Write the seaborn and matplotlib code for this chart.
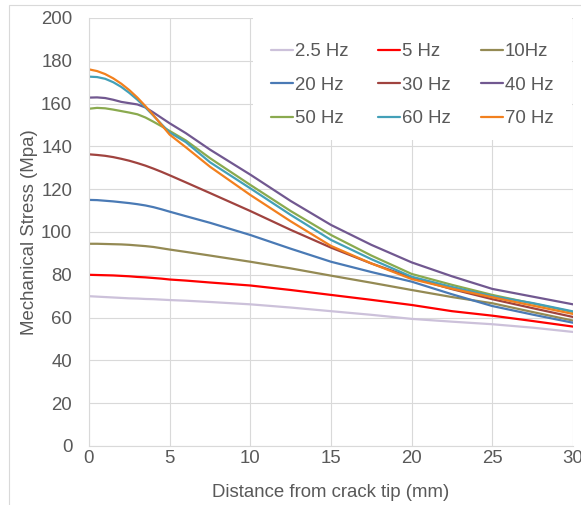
import matplotlib
matplotlib.use("Agg")
import matplotlib.pyplot as plt
from matplotlib.patches import Rectangle
import seaborn as sns

# === Data ===
distance = [0, 0.5, 1, 1.5, 2, 2.5, 3, 3.5, 4, 4.5, 5, 6, 7.5, 10, 12.5, 15, 17.5, 20, 22.5, 25, 27.5, 30]

freq_labels = ["2.5 Hz", "5 Hz", "10Hz", "20 Hz", "30 Hz", "40 Hz", "50 Hz", "60 Hz", "70 Hz"]

stress_2_5hz = [70.0, 69.8, 69.6, 69.4, 69.2, 69.0, 68.9, 68.7, 68.6, 68.4, 68.2, 67.9,
                67.3, 66.2, 64.7, 63.0, 61.3, 59.4, 58.1, 56.9, 55.3, 53.3]
stress_5hz = [80.0, 79.9, 79.8, 79.7, 79.5, 79.3, 79.0, 78.8, 78.5, 78.2, 77.8, 77.3,
              76.4, 75.0, 72.9, 70.6, 68.3, 65.9, 63.0, 60.9, 58.4, 55.8]
stress_10hz = [94.5, 94.5, 94.4, 94.3, 94.2, 94.0, 93.7, 93.4, 93.0, 92.4, 91.8, 90.7,
               89.0, 86.1, 83.0, 79.6, 76.3, 72.9, 69.6, 66.7, 62.6, 58.6]
stress_20hz = [115.0, 114.9, 114.6, 114.3, 113.9, 113.5, 113.0, 112.4, 111.6, 110.6, 109.5, 107.4,
               104.3, 98.6, 92.2, 86.1, 81.3, 76.8, 70.9, 65.4, 61.4, 57.6]
stress_30hz = [136.3, 136.0, 135.6, 135.0, 134.2, 133.3, 132.2, 131.0, 129.6, 128.1, 126.5, 123.2,
               118.2, 109.8, 101.0, 92.7, 85.3, 78.7, 73.3, 68.6, 64.4, 60.3]
stress_40hz = [162.8, 162.9, 162.6, 161.8, 160.8, 160.2, 159.6, 158.2, 155.8, 153.3, 150.8, 146.2,
               138.5, 126.8, 114.5, 103.3, 94.0, 85.8, 79.3, 73.4, 69.8, 66.2]
stress_50hz = [157.6, 158.0, 157.8, 157.2, 156.5, 155.8, 155.0, 153.5, 151.5, 149.4, 147.2, 142.8,
               134.5, 122.0, 109.8, 98.6, 89.0, 80.4, 75.3, 70.6, 66.6, 62.6]
stress_60hz = [172.6, 172.4, 171.6, 170.0, 167.8, 165.0, 161.8, 158.2, 154.3, 150.3, 146.5, 142.0,
               132.6, 120.4, 108.0, 96.3, 87.3, 79.1, 74.3, 70.0, 66.8, 62.9]
stress_70hz = [176.0, 175.2, 173.8, 171.8, 169.3, 166.3, 162.8, 158.8, 154.5, 150.0, 145.5, 139.6,
               130.5, 117.3, 105.0, 93.5, 85.3, 78.0, 73.5, 69.5, 65.6, 61.7]

colors = ["#ccc1da", "#ff0000", "#948a54", "#4a7ab5", "#a0433f",
          "#715890", "#8aaa4f", "#43a0b8", "#f2801e"]

series = [stress_2_5hz, stress_5hz, stress_10hz, stress_20hz, stress_30hz,
          stress_40hz, stress_50hz, stress_60hz, stress_70hz]

TEXT_COLOR = "#595959"
GRID_COLOR = "#d9d9d9"

sns.set_theme(style="whitegrid")
plt.rcParams["font.family"] = ["Liberation Sans", "DejaVu Sans"]

fig = plt.figure(figsize=(5.81, 5.05), dpi=100)
ax = fig.add_axes([89 / 581, 1 - 446 / 505, 484 / 581, 428 / 505])

for vals, name, col in zip(series, freq_labels, colors):
    sns.lineplot(x=distance, y=vals, color=col, label=name, linewidth=1.6, ax=ax)

ax.set_xlim(0, 30)
ax.set_ylim(0, 200)
ax.set_xticks(range(0, 31, 5))
ax.set_yticks(range(0, 201, 20))
ax.grid(True, color=GRID_COLOR, linewidth=0.8)
ax.set_axisbelow(True)
for side in ["top", "right"]:
    ax.spines[side].set_visible(False)
for side in ["left", "bottom"]:
    ax.spines[side].set_color(GRID_COLOR)
    ax.spines[side].set_linewidth(0.8)

ax.tick_params(axis="y", length=0, pad=12, labelsize=13.4, labelcolor=TEXT_COLOR)
ax.tick_params(axis="x", length=0, pad=3, labelsize=13.4, labelcolor=TEXT_COLOR)
ax.set_xlabel("Distance from crack tip (mm)", fontsize=13.4, color=TEXT_COLOR, labelpad=12)
ax.set_ylabel("Mechanical Stress (Mpa)", fontsize=13.4, color=TEXT_COLOR, labelpad=2)

# white legend area that hides the grid, as in the original
ax.add_patch(Rectangle((0.339, 0.715), 0.659, 0.285, transform=ax.transAxes,
                       facecolor="white", edgecolor="none", zorder=1.5))

# legend laid out row by row like the original (matplotlib fills columns first)
handles, labels = ax.get_legend_handles_labels()
order = [0, 3, 6, 1, 4, 7, 2, 5, 8]
leg = ax.legend(
    [handles[i] for i in order],
    [labels[i] for i in order],
    ncol=3,
    loc="upper left",
    bbox_to_anchor=(0.337, 0.984),
    borderaxespad=0,
    fontsize=13.4,
    frameon=False,
    handlelength=1.18,
    handletextpad=0.12,
    columnspacing=1.6,
    borderpad=1.0,
    labelspacing=0.88,
)
for t in leg.get_texts():
    t.set_color(TEXT_COLOR)
for h in leg.legend_handles:
    h.set_linewidth(1.6)

# outer chart frame (cropped on the right and bottom)
fig.add_artist(Rectangle((9 / 581, -0.05), 2.0, 1 - 5 / 505 + 0.05,
                         transform=fig.transFigure, fill=False,
                         edgecolor=GRID_COLOR, linewidth=0.8))

fig.savefig("out.png", dpi=100)
